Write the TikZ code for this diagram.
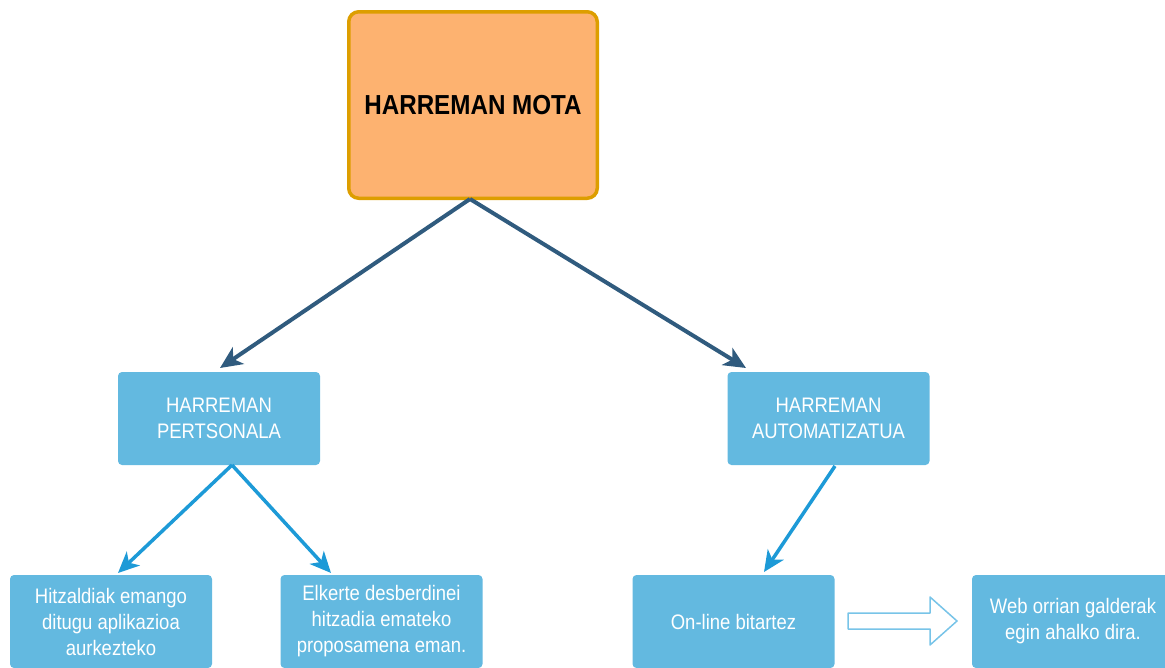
\documentclass[tikz,border=0pt]{standalone}
\usepackage{fontspec}
\setmainfont{Liberation Sans}[FakeStretch=0.88]
\usetikzlibrary{arrows.meta}

\definecolor{motaFill}{RGB}{253,178,112}
\definecolor{motaLine}{RGB}{221,158,0}
\definecolor{boxFill}{RGB}{99,185,224}
\definecolor{darkArrow}{RGB}{48,91,126}
\definecolor{lightArrow}{RGB}{29,154,215}
\definecolor{blockLine}{RGB}{120,196,232}

\tikzset{
  motabox/.style={draw=motaLine, line width=3.5pt, fill=motaFill, rounded corners=10pt,
    minimum width=248.5pt, minimum height=186.5pt, inner sep=0pt,
    font=\fontsize{27.5}{32}\selectfont\bfseries, text=black},
  bluebox/.style={fill=boxFill, rounded corners=4pt, minimum width=202pt,
    minimum height=93pt, inner sep=0pt, align=center, text=white,
    font=\fontsize{21}{26}\selectfont},
  darkline/.style={draw=darkArrow, line width=4pt,
    -{Stealth[length=22pt,width=20pt,inset=6pt]}},
  lightline/.style={draw=lightArrow, line width=3.5pt,
    -{Stealth[length=21pt,width=19pt,inset=6pt]}}
}

\begin{document}
\begin{tikzpicture}[x=1pt,y=1pt,yscale=-1,xscale=1]
        \useasboundingbox (0,0) rectangle (1165,667);

        %Shape: Rounded Rect
        \node [motabox] (mota) at (473,105) {HARREMAN MOTA};
        % Text Node
        \node [bluebox] (pers) at (219,418.5) {HARREMAN\\PERTSONALA};
        % Text Node
        \node [bluebox] (auto) at (828.5,418.5) {HARREMAN\\AUTOMATIZATUA};
        % Text Node
        \node [bluebox] (hitz) at (111,621.5) {Hitzaldiak emango\\ditugu aplikazioa\\aurkezteko};
        % Text Node
        \node [bluebox] (elk) at (381.5,621.5) {Elkerte desberdinei\\hitzadia emateko\\proposamena eman.};
        % Text Node
        \node [bluebox] (onl) at (733.5,621.5) {On-line bitartez};
        % Text Node
        \node [bluebox] (web) at (1073,621.5) {Web orrian galderak\\egin ahalko dira.};

        \coordinate (motaOut) at (470,199);
        \coordinate (persIn) at (220,368);
        \coordinate (autoIn) at (746,368);
        \coordinate (persOut) at (232,465);
        \coordinate (hitzIn) at (118,573);
        \coordinate (elkIn) at (331,573);
        \coordinate (autoOut) at (835,466);
        \coordinate (onlIn) at (764,572);

        %Straight Lines
        \draw [darkline] (motaOut) -- (persIn);
        \draw [darkline] (motaOut) -- (autoIn);
        %Straight Lines
        \draw [lightline] (persOut) -- (hitzIn);
        \draw [lightline] (persOut) -- (elkIn);
        \draw [lightline] (autoOut) -- (onlIn);

        %Shape: Right Arrow
        \draw [blockLine, line width=1.5pt, fill=white, line join=round]
          (848,613) -- (930,613) -- (930,597) -- (957,621) -- (930,645)
          -- (930,629) -- (848,629) -- cycle;

\end{tikzpicture}
\end{document}
